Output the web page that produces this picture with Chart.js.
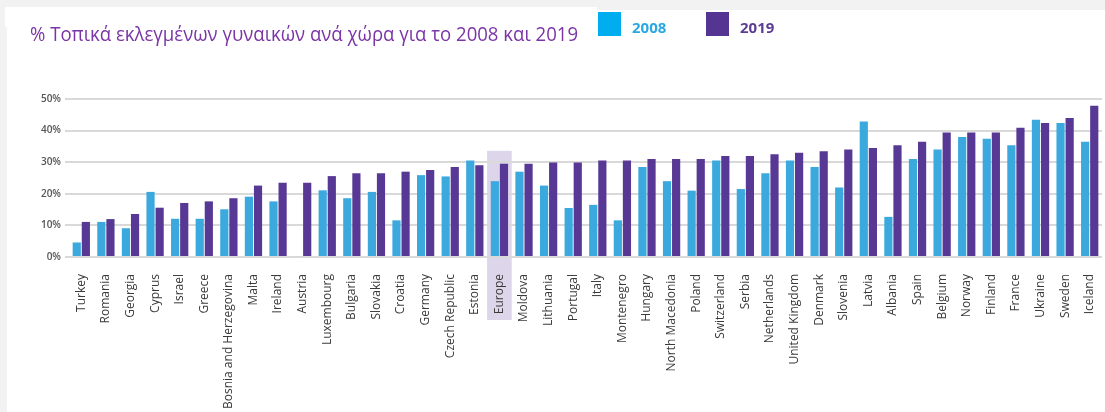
<!DOCTYPE html>
<html>
<head>
<meta charset="utf-8">
<script src="https://cdn.jsdelivr.net/npm/chart.js@4/dist/chart.umd.min.js"></script>
<style>
  html, body { margin: 0; padding: 0; background: #f2f2f2; }
  #wrap { width: 1105px; height: 412px; position: relative; }
</style>
</head>
<body>
<div id="wrap"><canvas id="womenChart"></canvas></div>
<script>
// Data
const countries = ['Turkey', 'Romania', 'Georgia', 'Cyprus', 'Israel', 'Greece', 'Bosnia and Herzegovina',
    'Malta', 'Ireland', 'Austria', 'Luxembourg', 'Bulgaria', 'Slovakia', 'Croatia', 'Germany',
    'Czech Republic', 'Estonia', 'Europe', 'Moldova', 'Lithuania', 'Portugal', 'Italy', 'Montenegro',
    'Hungary', 'North Macedonia', 'Poland', 'Switzerland', 'Serbia', 'Netherlands', 'United Kingdom',
    'Denmark', 'Slovenia', 'Latvia', 'Albania', 'Spain', 'Belgium', 'Norway', 'Finland', 'France',
    'Ukraine', 'Sweden', 'Iceland'];
const values2008 = [4.6, 11.1, 9.1, 20.6, 12.1, 12.1, 15.1, 19.1, 17.6, 0.3, 21.1, 18.6, 20.6, 11.6, 25.9,
    25.5, 30.5, 24.0, 27.0, 22.6, 15.5, 16.5, 11.6, 28.5, 24.0, 21.0, 30.5, 21.5, 26.5, 30.5,
    28.5, 22.0, 42.9, 12.7, 31.0, 34.0, 38.0, 37.4, 35.4, 43.4, 42.4, 36.5];
const values2019 = [11.1, 12.0, 13.6, 15.6, 17.1, 17.6, 18.6, 22.6, 23.5, 23.5, 25.6, 26.5, 26.5, 27.0, 27.5,
    28.5, 29.0, 29.5, 29.5, 29.9, 29.9, 30.5, 30.5, 31.0, 31.0, 31.0, 32.0, 32.0, 32.5, 33.0,
    33.5, 34.0, 34.5, 35.4, 36.5, 39.4, 39.4, 39.4, 40.9, 42.4, 44.0, 47.9];
const seriesNames = ['2008', '2019'];
const yTicks = [0, 10, 20, 30, 40, 50];
const highlightCategory = 'Europe';
const titleText = '% Τοπικά εκλεγμένων γυναικών ανά χώρα για το 2008 και 2019';

const narrow = '"Liberation Sans Narrow", "Open Sans", sans-serif';

// Page background, white panels and the Europe highlight
const backdrop = {
    id: 'backdrop',
    beforeDraw(chart) {
        const c = chart.ctx;
        c.save();
        c.fillStyle = '#f2f2f2';
        c.fillRect(0, 0, chart.width, chart.height);
        c.fillStyle = '#ffffff';
        c.fillRect(5, 7, 592, 20);
        c.fillRect(7, 10, chart.width - 7, chart.height - 10);

        const x = chart.scales.x, y = chart.scales.y;
        const idx = x.getLabels().indexOf(highlightCategory);
        if (idx >= 0) {
            const half = (x.getPixelForValue(1) - x.getPixelForValue(0)) / 2;
            const cx = x.getPixelForValue(idx);
            const top = y.getPixelForValue(33.6);
            c.fillStyle = '#ddd5e9';
            c.fillRect(cx - half, top, half * 2, chart.chartArea.bottom + 63 - top);
        }
        c.restore();
    }
};

// Title and legend drawn on one line at the top
const header = {
    id: 'header',
    afterDraw(chart) {
        const c = chart.ctx;
        c.save();
        c.font = '20px ' + narrow;
        c.fillStyle = '#7a35a6';
        c.textBaseline = 'alphabetic';
        const w = c.measureText(titleText).width;
        c.translate(30, 41);
        c.scale(548 / w, 1);
        c.fillText(titleText, 0, 0);
        c.restore();

        const swatch = ['#00adee', '#553592'];
        const textCol = ['#2aa8e2', '#5e3c91'];
        const xs = [598, 706];
        c.save();
        chart.data.datasets.forEach((ds, i) => {
            c.fillStyle = swatch[i];
            c.fillRect(xs[i], 12, 23, 24);
            c.fillStyle = textCol[i];
            c.font = 'bold 15px "Open Sans", sans-serif';
            c.textBaseline = 'middle';
            c.fillText(ds.label, xs[i] + 34, 29);
        });
        c.restore();
    }
};

new Chart(document.getElementById('womenChart'), {
    type: 'bar',
    data: {
        labels: countries,
        datasets: [{
            label: seriesNames[0],
            data: values2008,
            backgroundColor: '#3ba8de',
            categoryPercentage: 0.74,
            barPercentage: 0.9
        }, {
            label: seriesNames[1],
            data: values2019,
            backgroundColor: '#573894',
            categoryPercentage: 0.74,
            barPercentage: 0.9
        }]
    },
    options: {
        responsive: true,
        maintainAspectRatio: false,
        animation: false,
        layout: { padding: { top: 99, right: 3, left: 0, bottom: 0 } },
        plugins: {
            legend: { display: false },
            title: { display: false },
            tooltip: { enabled: false }
        },
        scales: {
            x: {
                grid: { display: false },
                border: { display: false },
                ticks: {
                    autoSkip: false,
                    minRotation: 90,
                    maxRotation: 90,
                    padding: 9,
                    color: '#3a3a3a',
                    font: { family: narrow, size: 12 }
                },
                afterFit(scale) {
                    scale.height = 155;
                    scale.paddingLeft = 0;
                    scale.paddingRight = 0;
                }
            },
            y: {
                min: 0,
                max: 50,
                afterBuildTicks(scale) { scale.ticks = yTicks.map(v => ({ value: v })); },
                grid: { color: '#d9d9d9', lineWidth: 2, tickLength: 4 },
                border: { display: false },
                ticks: {
                    padding: 4,
                    color: '#555555',
                    font: { family: '"Open Sans", sans-serif', size: 10, weight: '600' },
                    callback: v => v + '%'
                },
                afterFit(scale) { scale.width = 69; }
            }
        }
    },
    plugins: [backdrop, header]
});
</script>
</body>
</html>
